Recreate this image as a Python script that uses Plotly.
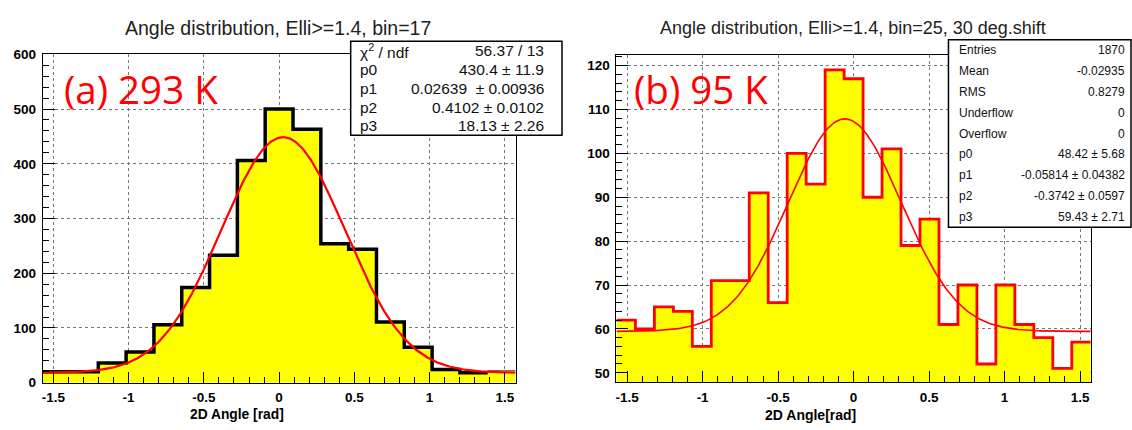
import numpy as np
import plotly.graph_objects as go

W, H = 1132, 430

# ---------------- data ----------------
left_counts = [20, 20, 36, 56, 106, 174, 233, 406, 500, 463, 254, 244, 111, 65, 24, 18, 22]
right_counts = [62, 60, 65, 64, 56, 71, 71, 91, 66, 100, 93, 119, 117, 90, 101,
                79, 85, 61, 70, 52, 70, 61, 58, 51, 57]
left_fit = [430.4, 0.02639, 0.4102, 18.13]      # p0..p3 (gaus + const)
right_fit = [48.42, -0.05814, -0.3742, 59.43]
x_min, x_max = -np.pi / 2, np.pi / 2

left_title = "Angle distribution, Elli>=1.4, bin=17"
right_title = "Angle distribution, Elli>=1.4, bin=25, 30 deg.shift"
left_xlabel = "2D Angle [rad]"
right_xlabel = "2D Angle[rad]"
left_tag = "(a) 293 K"
right_tag = "(b) 95 K"

x_tick_vals = [-1.5, -1, -0.5, 0, 0.5, 1, 1.5]
x_tick_text = ["-1.5", "-1", "-0.5", "0", "0.5", "1", "1.5"]
left_y_ticks = [0, 100, 200, 300, 400, 500, 600]
right_y_ticks = [50, 60, 70, 80, 90, 100, 110, 120]

left_stats_names = ["χ<sup>2</sup> / ndf", "p0", "p1", "p2", "p3"]
left_stats_values = ["56.37 / 13", "430.4 ± 11.9", "0.02639  ± 0.00936", "0.4102 ± 0.0102", "18.13 ± 2.26"]
right_stats_names = ["Entries", "Mean", "RMS", "Underflow", "Overflow", "p0", "p1", "p2", "p3"]
right_stats_values = ["1870", "-0.02935", "0.8279", "0", "0", "48.42 ± 5.68",
                      "-0.05814 ± 0.04382", "-0.3742 ± 0.0597", "59.43 ± 2.71"]

# ---------------- helpers ----------------
def px_x(v):
    return v / W

def px_y(v):
    return 1 - v / H

def step(counts):
    n = len(counts)
    edges = np.linspace(x_min, x_max, n + 1)
    return edges, list(counts) + [counts[-1]]

def fitfun(p, xs):
    p0, p1, p2, p3 = p
    return p3 + p0 * np.exp(-0.5 * ((xs - p1) / p2) ** 2)

YELLOW = "#ffff00"
fig = go.Figure()

# left panel
ex, ey = step(left_counts)
fig.add_trace(go.Scatter(x=ex, y=ey, mode="lines", line=dict(shape="hv", width=0, color=YELLOW),
                         fill="tozeroy", fillcolor=YELLOW, xaxis="x", yaxis="y", hoverinfo="skip"))
n16 = len(left_counts) - 1
fig.add_trace(go.Scatter(x=ex[:n16 + 1], y=left_counts[:n16] + [left_counts[n16 - 1]], mode="lines",
                         line=dict(shape="hv", width=3.5, color="black"), xaxis="x", yaxis="y"))
fig.add_trace(go.Scatter(x=ex[n16:], y=[left_counts[-1], left_counts[-1]], mode="lines",
                         line=dict(width=1, color="#555"), xaxis="x", yaxis="y"))
xs = np.linspace(x_min, x_max, 400)
fig.add_trace(go.Scatter(x=xs, y=fitfun(left_fit, xs), mode="lines",
                         line=dict(width=2.2, color="#ff0000"), xaxis="x", yaxis="y"))

# right panel
ex2, ey2 = step(right_counts)
fig.add_trace(go.Scatter(x=ex2, y=ey2, mode="lines", line=dict(shape="hv", width=0, color=YELLOW),
                         fill="tozeroy", fillcolor=YELLOW, xaxis="x2", yaxis="y2", hoverinfo="skip"))
fig.add_trace(go.Scatter(x=ex2, y=ey2, mode="lines", line=dict(shape="hv", width=2.8, color="#ff0000"),
                         xaxis="x2", yaxis="y2"))
fig.add_trace(go.Scatter(x=xs, y=fitfun(right_fit, xs), mode="lines",
                         line=dict(width=1.6, color="#ff0000"), xaxis="x2", yaxis="y2"))

tickfont = dict(family="Liberation Sans, Arial", size=13.5, color="black", weight="bold")
common_x = dict(range=[x_min, x_max], tickvals=x_tick_vals, ticktext=x_tick_text,
                showline=True, mirror=True, linecolor="black", linewidth=1,
                ticks="inside", ticklen=11, tickwidth=1, tickcolor="black",
                minor=dict(ticks="inside", ticklen=6, dtick=0.1, tick0=0, tickcolor="black", showgrid=False),
                showgrid=True, gridcolor="#777", griddash="dot", gridwidth=1, zeroline=False,
                tickfont=tickfont, ticklabelstandoff=2)
common_y = dict(showline=True, mirror=True, linecolor="black", linewidth=1,
                ticks="inside", ticklen=12, tickwidth=1, tickcolor="black",
                showgrid=True, gridcolor="#777", griddash="dot", gridwidth=1, zeroline=False,
                tickfont=tickfont, ticklabelstandoff=3)

fig.update_layout(
    width=W, height=H, margin=dict(l=0, r=0, t=0, b=0),
    paper_bgcolor="white", plot_bgcolor="white", showlegend=False,
    xaxis=dict(domain=[px_x(41.7), px_x(515)], anchor="y", **common_x),
    yaxis=dict(domain=[px_y(389.3), px_y(49)], anchor="x", range=[0, 600], tickvals=left_y_ticks,
               minor=dict(ticks="inside", ticklen=6, dtick=20, tick0=0, tickcolor="black", showgrid=False),
               **common_y),
    xaxis2=dict(domain=[px_x(616), px_x(1090.7)], anchor="y2", **common_x),
    yaxis2=dict(domain=[px_y(389), px_y(50)], anchor="x2", range=[47.8, 122.35], tickvals=right_y_ticks,
                minor=dict(ticks="inside", ticklen=6, dtick=2, tick0=0, tickcolor="black", showgrid=False),
                **common_y),
)

ann = []
title_font = dict(family="Liberation Sans, Arial", size=19.5, color="#222")
ann.append(dict(text=left_title, x=px_x(277), y=px_y(22), xref="paper", yref="paper",
                xanchor="center", yanchor="middle", showarrow=False, font=title_font))
ann.append(dict(text=right_title, x=px_x(853), y=px_y(22), xref="paper", yref="paper",
                xanchor="center", yanchor="middle", showarrow=False, font=dict(title_font, size=18)))
lab_font = dict(family="Liberation Sans, Arial", size=13.8, color="black", weight="bold")
ann.append(dict(text=left_xlabel, x=px_x(236), y=px_y(422), xref="paper", yref="paper",
                xanchor="center", yanchor="middle", showarrow=False, font=lab_font))
ann.append(dict(text=right_xlabel, x=px_x(810), y=px_y(423), xref="paper", yref="paper",
                xanchor="center", yanchor="middle", showarrow=False, font=dict(lab_font, size=14)))
tag_font = dict(family="Open Sans", size=38.5, color="#ff0000")
ann.append(dict(text=left_tag, x=px_x(61), y=px_y(85), xref="paper", yref="paper",
                xanchor="left", yanchor="middle", showarrow=False, font=tag_font))
ann.append(dict(text=right_tag, x=px_x(632), y=px_y(85), xref="paper", yref="paper",
                xanchor="left", yanchor="middle", showarrow=False, font=tag_font))

shapes = []
# left stats box
bx0, bx1, by0, by1 = 350, 561.5, 35.5, 133
shapes.append(dict(type="rect", xref="paper", yref="paper", x0=px_x(bx0), x1=px_x(bx1),
                   y0=px_y(by1), y1=px_y(by0), fillcolor="white", line=dict(color="black", width=1.5)))
sfont = dict(family="Liberation Sans, Arial", size=15.5, color="#111")
rh = (by1 - by0) / len(left_stats_names)
for i, (nm, vl) in enumerate(zip(left_stats_names, left_stats_values)):
    yc = by0 + rh * (i + 0.5)
    ann.append(dict(text=nm, x=px_x(bx0 + 7), y=px_y(yc), xref="paper", yref="paper",
                    xanchor="left", yanchor="middle", showarrow=False, font=sfont))
    ann.append(dict(text=vl, x=px_x(bx1 - 16), y=px_y(yc), xref="paper", yref="paper",
                    xanchor="right", yanchor="middle", showarrow=False, font=sfont))

# right stats box
cx0, cx1, cy0, cy1 = 948.3, 1131, 34, 228.3
shapes.append(dict(type="rect", xref="paper", yref="paper", x0=px_x(cx0), x1=px_x(cx1),
                   y0=px_y(cy1), y1=px_y(cy0), fillcolor="white", line=dict(color="black", width=1.5)))
sfont2 = dict(family="Liberation Sans, Arial", size=12, color="#111")
rh2 = (cy1 - cy0) / len(right_stats_names)
for i, (nm, vl) in enumerate(zip(right_stats_names, right_stats_values)):
    yc = cy0 + rh2 * (i + 0.5)
    ann.append(dict(text=nm, x=px_x(cx0 + 9), y=px_y(yc), xref="paper", yref="paper",
                    xanchor="left", yanchor="middle", showarrow=False, font=sfont2))
    ann.append(dict(text=vl, x=px_x(cx1 - 4), y=px_y(yc), xref="paper", yref="paper",
                    xanchor="right", yanchor="middle", showarrow=False, font=sfont2))

fig.update_layout(annotations=ann, shapes=shapes)
fig.write_html("out.html")
